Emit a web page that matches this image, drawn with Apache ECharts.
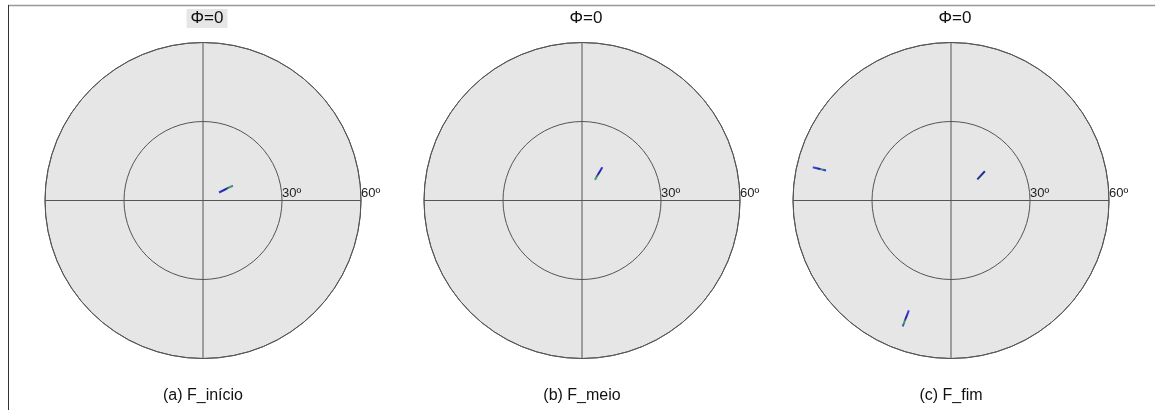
<!DOCTYPE html>
<html style="height: 100%">
<head>
    <meta charset="utf-8">
</head>
<body style="height: 100%; margin: 0; background: #fff">
    <div id="container" style="width: 1155px; height: 410px"></div>
    <script type="text/javascript" src="https://cdn.jsdelivr.net/npm/echarts@6/dist/echarts.min.js"></script>
    <script type="text/javascript">
        // pole figures, [radius in deg, angle in deg counter-clockwise from east]
        var captions = ['(a) F_início', '(b) F_meio', '(c) F_fim'];
        var topLabel = 'Φ=0';
        var radiusTicks = [0, 30, 60];
        var segA = [[6.8, 26.6], [12.7, 26.6]];
        var segB = [[9.3, 58.0], [14.8, 58.6]];
        var segC1 = [[12.8, 38.6], [17.0, 40.8]];
        var segC2 = [[54.0, 166.5], [48.8, 166.5]];
        var segC3 = [[51.2, 249.0], [44.7, 249.0]];
        var segments = [[segA], [segB], [segC1, segC2, segC3]];

        var centersX = [203, 582, 951];
        var font = 'Liberation Sans, Arial, sans-serif';

        var dom = document.getElementById('container');
        var myChart = echarts.init(dom);

        var polar = [], angleAxis = [], radiusAxis = [], series = [], title = [];
        for (let i = 0; i < 3; i++) {
            polar.push({center: [centersX[i], 200.5], radius: 158});
            angleAxis.push({
                polarIndex: i, type: 'value', min: 0, max: 360, interval: 90,
                startAngle: 0, clockwise: false,
                axisLine: {show: true, lineStyle: {color: '#555', width: 1}},
                axisTick: {show: false}, axisLabel: {show: false},
                splitLine: {show: true, lineStyle: {color: '#555', width: 1, type: 'solid'}},
                splitArea: {show: false},
                z: 3
            });
            radiusAxis.push({
                polarIndex: i, type: 'value',
                min: radiusTicks[0], max: radiusTicks[2], interval: 30,
                axisLine: {show: false}, axisTick: {show: false},
                axisLabel: {
                    show: true, showMinLabel: false, margin: 1,
                    color: '#222', fontSize: 13, fontFamily: font,
                    align: 'left', verticalAlign: 'bottom',
                    formatter: function (v) { return v + 'º'; }
                },
                splitLine: {show: true, lineStyle: {color: '#555', width: 1, type: 'solid'}},
                splitArea: {show: false},
                z: 3
            });
            segments[i].forEach(function (seg) {
                series.push({
                    type: 'line', coordinateSystem: 'polar', polarIndex: i,
                    data: seg, symbol: 'none', silent: true,
                    lineStyle: {
                        width: 2,
                        color: new echarts.graphic.LinearGradient(0, 0, 1, 1, [
                            {offset: 0, color: '#6060f5'},
                            {offset: 0.35, color: '#3030e0'},
                            {offset: 0.5, color: '#20209a'},
                            {offset: 0.6, color: '#40b060'},
                            {offset: 0.75, color: '#3030e0'},
                            {offset: 1, color: '#5050f0'}
                        ])
                    },
                    z: 5
                });
            });
            title.push({
                text: topLabel, left: centersX[i], top: 9, textAlign: 'center',
                backgroundColor: i === 0 ? '#e6e6e6' : 'transparent',
                padding: [1, 4, 1, 4],
                textStyle: {fontSize: 17, fontWeight: 'normal', color: '#111', fontFamily: font}
            });
            title.push({
                text: captions[i], left: centersX[i], top: 388, textAlign: 'center',
                padding: 0,
                textStyle: {fontSize: 16, fontWeight: 'normal', color: '#111', fontFamily: font}
            });
        }
        // background discs: extra polar systems underneath that only paint the gray fill
        for (let i = 0; i < 3; i++) {
            polar.push({center: [centersX[i], 200.5], radius: 158});
            angleAxis.push({
                polarIndex: 3 + i, type: 'value', min: 0, max: 360, interval: 360,
                startAngle: 0, clockwise: false,
                axisLine: {show: false}, axisTick: {show: false}, axisLabel: {show: false},
                splitLine: {show: false},
                z: -1
            });
            radiusAxis.push({
                polarIndex: 3 + i, type: 'value', min: 0, max: 60, interval: 60,
                axisLine: {show: false}, axisTick: {show: false}, axisLabel: {show: false},
                splitLine: {show: false},
                splitArea: {show: true, areaStyle: {color: ['#e6e6e6', '#e6e6e6']}},
                z: -1
            });
        }

        var option = {
            backgroundColor: '#fff',
            animation: false,
            title: title,
            polar: polar,
            angleAxis: angleAxis,
            radiusAxis: radiusAxis,
            series: series,
            graphic: [
                {type: 'line', shape: {x1: 8, y1: 5.5, x2: 1155, y2: 5.5}, style: {stroke: '#999', lineWidth: 1.5}},
                {type: 'line', shape: {x1: 8.5, y1: 5, x2: 8.5, y2: 410}, style: {stroke: '#333', lineWidth: 1}}
            ]
        };
        myChart.setOption(option);
    </script>
</body>
</html>
